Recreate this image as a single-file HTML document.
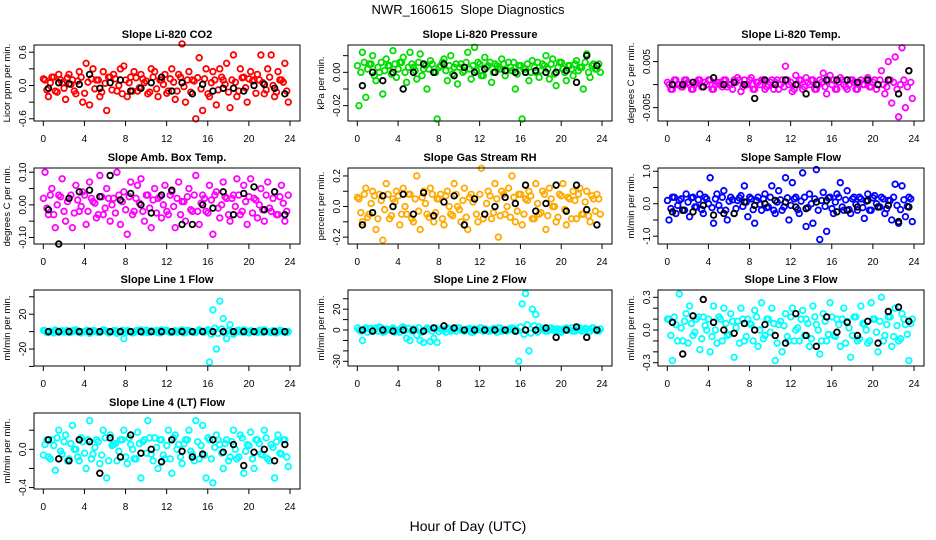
<!DOCTYPE html>
<html><head><meta charset="utf-8"><style>
html,body{margin:0;padding:0;background:#fff}
svg{display:block;font-family:"Liberation Sans",sans-serif}
.t{font-weight:bold;font-size:11px}
.tk{font-size:10px}
.al{font-size:9.5px}
</style></head><body>
<svg id="c" width="936" height="540" viewBox="0 0 936 540">
<text x="468" y="14" text-anchor="middle" font-size="13">NWR_160615&#160; Slope Diagnostics</text>
<text x="468" y="531" text-anchor="middle" font-size="14">Hour of Day (UTC)</text>
</svg>
<script>
const hourTicks=[0,4,8,12,16,20,24];
const titles=["Slope Li-820 CO2","Slope Li-820 Pressure","Slope Li-820 Temp.","Slope Amb. Box Temp.","Slope Gas Stream RH","Slope Sample Flow","Slope Line 1 Flow","Slope Line 2 Flow","Slope Line 3 Flow","Slope Line 4 (LT) Flow"];
const yLabels=["Licor ppm per min.","kPa per min.","degrees C per min.","degrees C per min.","percent per min.","ml/min per min.","ml/min per min.","ml/min per min.","ml/min per min.","ml/min per min."];
const yRanges=[[-0.64,0.73],[-0.0292,0.0164],[-0.0079,0.0086],[-0.12,0.113],[-0.245,0.252],[-1.24,1.1],[-39.5,47.8],[-34.5,38.4],[-0.33,0.367],[-0.415,0.38]];
const yTicks=[[-0.6,-0.3,0,0.3,0.6],[-0.02,-0.01,0,0.01],[-0.005,0,0.005],[-0.1,-0.05,0,0.05,0.1],[-0.2,-0.1,0,0.1,0.2],[-1,-0.5,0,0.5,1],[-40,-20,0,20,40],[-30,-20,-10,0,10,20,30],[-0.3,-0.2,-0.1,0,0.1,0.2,0.3],[-0.4,-0.2,0,0.2]];
const yTickLabels=[["-0.6","","0.0","","0.6"],["-0.02","","0.00",""],["-0.005","","0.005"],["-0.10","","0.00","","0.10"],["-0.2","","0.0","","0.2"],["-1.0","","0.0","","1.0"],["","-20","","20",""],["-30","","","0","","20",""],["-0.3","","","0.0","","","0.3"],["-0.4","","0.0",""]];
const colors=["#ff0000","#00dd00","#ff00ff","#ff00ff","#ffaa00","#0000ff","#00ffff","#00ffff","#00ffff","#00ffff"];
const series=[
[0.1,-0.2,0.15,-0.1,0.2,0.05,-0.25,0.2,0.1,-0.15,0.25,-0.3,0.4,-0.35,0.3,0.1,-0.2,0.25,-0.45,0.15,0.2,-0.1,0.3,0.35,-0.2,0.15,0.25,-0.1,0.2,0.05,-0.15,0.3,0.25,-0.2,0.1,0.2,-0.1,0.3,-0.25,0.2,0.75,-0.3,0.25,0.1,-0.6,0.5,-0.45,0.3,-0.2,0.25,-0.35,0.3,0.1,0.4,-0.4,0.55,-0.2,0.3,0.15,-0.3,0.25,0.1,0.2,0.55,-0.15,0.3,0.55,-0.2,0.25,0.1,0.4,-0.3],
[-0.02,0.012,-0.015,0.005,0.01,-0.005,0.0,-0.013,0.008,0.004,0.013,-0.003,0.006,0.009,-0.006,0.012,0.003,-0.004,0.011,0.002,-0.01,0.007,0.0,-0.028,0.004,0.008,-0.005,0.01,0.003,-0.007,0.005,0.001,0.012,-0.004,0.015,0.006,-0.002,0.009,0.004,-0.006,0.005,0.003,0.008,-0.002,0.006,0.001,-0.01,0.004,-0.028,0.002,-0.005,0.007,0.0,-0.003,0.005,0.01,-0.004,0.008,-0.008,0.006,0.002,-0.005,0.004,-0.002,0.007,0.003,-0.01,0.011,-0.003,0.005,0.002,0.0],
[0,-0.001,0.001,0,-0.0005,0.001,0,-0.001,0.0005,0.001,-0.0005,0,0.001,-0.001,0.0005,0,0.001,-0.0005,0,0.001,0.0015,-0.0015,0.001,0,0.0015,-0.001,0.0005,0.001,-0.001,0,0.001,0.0005,-0.001,0.001,0.004,0,-0.0015,0.002,0.001,-0.001,0.0015,0,0.001,-0.001,0.001,0.0025,-0.002,0.002,0.001,-0.001,0.0015,0,-0.001,0.001,0.0005,-0.001,0.001,0,0.0015,-0.0005,0.001,0,0.003,-0.002,0.005,-0.004,0.006,-0.007,0.008,-0.005,0.003,-0.003],
[0.1,-0.03,0.05,-0.07,0.03,0.08,-0.05,0.02,-0.07,0.06,-0.02,0.04,-0.06,0.07,0.01,-0.04,0.09,-0.03,0.05,-0.05,0.02,0.1,-0.06,0.04,-0.09,0.07,-0.02,0.06,0.08,-0.05,0.03,-0.07,0.05,0.02,-0.04,0.06,-0.03,0.04,-0.07,0.07,0.01,-0.05,0.05,-0.02,0.09,-0.06,0.03,-0.02,0.06,-0.09,0.04,-0.04,0.07,0.02,-0.05,0.03,0.08,-0.03,0.06,-0.06,0.08,0.02,-0.04,0.05,-0.05,0.07,-0.02,0.04,-0.03,0.06,-0.05,0.03],
[0.05,-0.1,0.12,-0.05,0.1,-0.15,0.08,-0.22,0.15,-0.08,0.05,0.1,-0.12,0.12,-0.05,0.08,-0.1,0.2,-0.15,0.1,-0.05,0.12,-0.1,0.05,0.08,-0.12,0.1,-0.05,0.15,0.0,-0.1,0.12,-0.15,0.08,0.05,-0.1,0.25,-0.05,0.1,-0.08,0.15,-0.2,0.1,-0.05,0.12,0.2,-0.1,0.08,-0.12,0.05,0.1,-0.08,0.15,-0.05,0.1,-0.15,0.12,0.0,-0.1,0.08,0.15,-0.12,0.05,0.1,-0.08,0.12,-0.05,0.1,-0.1,0.05,0.08,-0.05],
[-0.5,0.2,-0.3,0.1,-0.2,0.3,-0.4,0.2,-0.1,0.3,-0.3,0.15,0.8,-0.6,0.3,-0.2,0.4,-0.5,0.2,-0.3,0.1,0.25,0.55,-0.4,0.15,-0.6,0.2,-0.2,0.3,-0.1,0.55,-0.3,0.4,-0.2,0.8,-0.5,0.65,0.2,-0.3,0.95,-0.7,0.3,-0.6,1.05,-1.1,0.35,-0.85,0.2,-0.3,0.3,0.65,-0.2,0.4,-0.3,0.2,-0.2,0.15,-0.45,0.3,-0.2,0.25,-0.1,0.2,-0.3,0.1,-0.5,0.6,-0.6,0.55,-0.4,0.2,-0.55],
[1,-1,0,2,-1,1,0,-1,1,2,-1,0,1,-2,1,0,-1,2,0,-1,1,-2,0,-8,1,0,-1,1,2,0,-1,1,0,-1,2,1,0,-1,1,0,2,-1,1,0,-1,2,0,1,-35,25,-20,35,15,-8,8,-3,1,0,2,-1,1,0,-1,1,2,0,-1,1,0,1,-1,0],
[0,-10,2,1,-1,2,3,-2,1,0,2,-1,-2,3,-8,-10,1,-5,-10,-12,2,-11,-8,-12,1,0,2,-1,1,2,0,-1,1,-2,1,0,2,1,-1,0,1,2,-1,0,1,2,-1,-30,25,35,-20,20,15,3,1,-1,2,0,1,-1,1,2,0,-1,1,2,0,1,-1,2,0,1],
[0.1,-0.28,0.05,0.33,-0.1,0.15,0.22,-0.05,0.1,-0.18,0.12,0.0,-0.2,0.22,-0.12,0.1,0.2,-0.05,0.15,-0.25,0.08,0.2,-0.1,0.1,0.05,0.18,-0.15,0.25,-0.05,0.1,0.2,-0.28,0.05,-0.2,0.15,-0.1,0.2,0.0,-0.1,0.18,0.1,-0.15,0.22,0.05,-0.22,0.15,-0.1,0.25,-0.05,0.1,-0.15,0.2,0.08,-0.25,0.12,-0.1,0.22,0.05,-0.12,0.25,0.1,-0.2,0.3,-0.05,0.12,-0.15,0.2,-0.1,0.15,0.05,-0.28,0.1],
[0.05,-0.08,0.1,-0.22,0.2,-0.05,0.15,-0.1,0.25,0.0,-0.12,0.08,-0.2,0.3,-0.05,0.1,-0.15,0.2,-0.3,0.15,0.05,-0.12,0.1,0.2,-0.15,0.05,-0.1,0.18,-0.3,0.1,0.3,-0.05,0.12,-0.2,0.1,-0.1,0.2,-0.25,0.15,0.05,-0.15,0.1,0.2,-0.05,0.3,-0.1,0.25,-0.3,0.1,-0.35,0.15,0.05,-0.2,0.1,-0.08,0.2,-0.1,0.15,-0.25,0.05,0.18,-0.2,0.1,-0.05,0.2,-0.1,0.05,-0.3,0.15,-0.05,0.1,-0.18]
];
const bandSeries=[
[0.12,-0.08,0.05,0.15,-0.12,0.1,-0.05,0.14,0.02,-0.1,0.08,0.15,-0.14,0.06,0.12,-0.06,0.1,-0.12,0.04,0.15,-0.08,0.12,0.0,-0.15,0.1,0.05,-0.1,0.14,-0.04,0.12,0.08,-0.12,0.15,-0.06,0.1,0.02,-0.14,0.12,0.06,-0.1,0.15,-0.02,0.1,-0.12,0.08,0.14,-0.06,0.12,-0.15,0.05,0.1,-0.08,0.15,0.02,-0.12,0.1,0.06,-0.1,0.14,-0.04,0.12,0.08,-0.14,0.1,0.05,-0.08,0.15,0.0,-0.12,0.1,0.06,-0.1],
[0.004,0.0,0.006,0.002,0.005,-0.002,0.003,0.006,0.001,0.004,-0.001,0.005,0.002,0.006,0.0,0.003,0.005,0.001,0.006,-0.002,0.004,0.002,0.005,0.0,0.003,0.006,0.001,0.004,-0.001,0.005,0.003,0.0,0.006,0.002,0.004,0.001,0.005,-0.002,0.003,0.006,0.0,0.004,0.002,0.005,0.001,0.003,0.006,-0.001,0.004,0.002,0.005,0.0,0.003,0.006,0.001,0.004,0.002,0.005,-0.001,0.003,0.006,0.0,0.004,0.002,0.005,0.001,0.003,0.006,0.0,0.004,0.002,0.005],
[0.0005,-0.001,0.001,0,-0.0005,0.001,0.0005,-0.001,0,0.001,-0.0005,0.0005,0.001,-0.001,0,0.0005,-0.0005,0.001,0,-0.001,0.0005,0.001,-0.0005,0,0.001,-0.001,0.0005,0,0.001,-0.0005,0.0005,-0.001,0.001,0,-0.0005,0.001,0.0005,-0.001,0,0.001,-0.0005,0.0005,0.001,-0.001,0,0.0005,-0.0005,0.001,0,-0.001,0.0005,0.001,-0.0005,0,0.001,-0.001,0.0005,0,0.001,-0.0005,0.0005,-0.001,0.001,0,-0.0005,0.001,0.0005,-0.001,0,0.001,-0.0005,0.0005],
[0.02,-0.01,0.03,-0.03,0.0,0.025,-0.02,0.01,0.03,-0.025,0.015,-0.005,0.03,-0.02,0.02,0.005,-0.03,0.025,-0.01,0.02,0.0,-0.025,0.03,0.01,-0.015,0.025,-0.03,0.02,0.005,-0.02,0.03,-0.01,0.015,-0.025,0.025,0.0,-0.02,0.03,-0.005,0.02,-0.03,0.01,0.025,-0.015,0.03,-0.02,0.005,0.02,-0.025,0.015,0.03,-0.01,0.0,0.025,-0.03,0.02,-0.005,0.03,-0.02,0.01,0.025,-0.025,0.015,0.0,-0.015,0.03,-0.01,0.02,-0.03,0.025,0.005,-0.02],
[0.06,-0.04,0.08,-0.07,0.02,0.07,-0.08,0.04,-0.02,0.08,-0.06,0.03,0.07,-0.05,0.0,0.08,-0.08,0.05,-0.03,0.06,0.02,-0.07,0.08,-0.04,0.05,-0.08,0.07,0.0,-0.06,0.08,-0.02,0.04,-0.07,0.06,0.03,-0.05,0.08,-0.08,0.02,0.07,-0.04,0.05,-0.06,0.08,0.0,-0.07,0.06,-0.03,0.08,-0.05,0.04,0.07,-0.08,0.02,-0.04,0.08,-0.06,0.05,0.0,-0.07,0.07,-0.02,0.06,-0.08,0.04,0.08,-0.05,0.03,-0.06,0.07,-0.03,0.05],
[0.1,-0.15,0.2,-0.05,0.15,-0.2,0.05,0.18,-0.1,0.12,-0.18,0.2,0.0,-0.12,0.15,-0.05,0.2,-0.2,0.08,0.12,-0.15,0.18,-0.08,0.05,0.2,-0.18,0.1,-0.02,0.15,-0.12,0.2,-0.2,0.05,0.12,-0.1,0.18,-0.05,0.15,-0.18,0.08,0.2,-0.12,0.0,0.15,-0.2,0.1,-0.08,0.18,-0.15,0.05,0.2,-0.1,0.12,-0.18,0.15,-0.02,0.2,-0.12,0.08,-0.2,0.18,0.0,-0.1,0.15,-0.15,0.1,0.2,-0.05,-0.18,0.12,-0.08,0.15],
[1.5,-1,0.5,-1.5,1,0,-0.5,1.5,-1,0.5,1,-1.5,0,1.5,-0.5,1,-1,0.5,1.5,-1.5,0,1,-0.5,1.5,-1,0.5,-1.5,1,0,-1,1.5,-0.5,0.5,1,-1.5,0,1.5,-1,0.5,-0.5,1,-1.5,1.5,0,-1,0.5,1,-0.5,2,-3,4,-2,3,-1.5,1,0,-1,1.5,-0.5,1,-1.5,0.5,0,1.5,-1,0.5,-0.5,1,-1.5,1.5,0,-1],
[2,-1,1,-2,1.5,0,-1,2,-1.5,0.5,1,-2,0,2,-0.5,1.5,-1,0.5,2,-2,0,1,-1,2,-1.5,0.5,-2,1,0,-1,2,-0.5,0.5,1.5,-2,0,2,-1,0.5,-1,1.5,-2,2,0,-1,0.5,1.5,-1,3,-4,5,-3,4,-2,1,0,-1,2,-0.5,1,-2,0.5,0,2,-1,0.5,-1,1.5,-2,2,0,-1],
[0.1,-0.05,0.12,-0.1,0.02,0.08,-0.12,0.06,-0.02,0.12,-0.08,0.04,0.1,-0.06,0.0,0.12,-0.1,0.06,-0.04,0.08,0.02,-0.12,0.1,-0.06,0.06,-0.1,0.12,0.0,-0.08,0.1,-0.02,0.06,-0.12,0.08,0.04,-0.06,0.12,-0.1,0.02,0.1,-0.05,0.06,-0.08,0.12,0.0,-0.1,0.08,-0.04,0.12,-0.06,0.05,0.1,-0.12,0.02,-0.05,0.12,-0.08,0.06,0.0,-0.1,0.1,-0.02,0.08,-0.1,0.05,0.12,-0.06,0.04,-0.08,0.1,-0.04,0.06],
[-0.06,0.1,-0.1,0.04,0.12,-0.02,0.08,-0.12,0.06,0.0,-0.08,0.12,-0.04,0.1,-0.1,0.02,0.08,-0.06,0.12,-0.12,0.04,0.06,-0.02,0.1,-0.08,0.12,0.0,-0.1,0.06,0.08,-0.04,0.12,-0.12,0.02,0.1,-0.06,0.04,-0.1,0.12,0.0,-0.08,0.06,0.1,-0.02,-0.12,0.08,0.04,-0.06,0.12,-0.1,0.02,0.1,-0.04,0.06,-0.12,0.08,0.0,-0.08,0.12,-0.02,0.04,-0.1,0.1,0.06,-0.06,0.12,-0.12,0.02,0.08,-0.04,0.1,-0.08]
];
const means=[
[-0.05,0.05,0.03,0.02,0.2,-0.05,0.05,0.1,-0.1,-0.05,0.05,0.15,-0.1,0.05,-0.15,0.02,-0.1,-0.05,-0.05,-0.1,0,0.02,-0.05,-0.15],
[-0.008,0,-0.005,0,-0.01,0,0.005,0,0.005,-0.002,0.003,0,0.002,0,0.001,0,0,0.001,0,0,0.001,-0.006,0.01,0.004],
[0,0,0.0005,-0.0005,0.0015,0,0.0005,0,-0.003,0.001,0,0.001,0,-0.002,0,0.001,0.001,0.001,0.0005,0.001,0,0.001,-0.002,0.003],
[-0.015,-0.12,0.02,0.04,0.045,0.025,0.09,0.015,0.035,0,-0.025,0.03,0.045,-0.06,-0.06,0,-0.01,0.04,-0.03,0.035,0.055,-0.015,0.04,-0.03],
[-0.12,-0.04,0.07,0,0.08,-0.05,0.09,-0.06,0.03,0.07,-0.12,0.05,-0.05,0,0.06,0.02,0.14,-0.03,0.02,0.14,-0.03,0.14,-0.02,-0.12],
[-0.25,-0.2,-0.25,-0.05,-0.35,-0.3,-0.3,0.05,-0.05,0,0.1,0.05,-0.1,-0.15,0.05,0.1,-0.25,-0.2,-0.1,0.1,-0.1,-0.05,-0.55,-0.1],
[0,0,0,0,0,0,0,0,0,0,0,0,0,0,0,0,0,0,0,0,0,0,0,0],
[0,-1,0,-1,0,0,-1,2,4,2,0,0,0,0,0,-1,0,0,2,-7,0,3,-7,0],
[0.07,-0.22,0.13,0.28,0.07,0,-0.03,0.06,0,0.05,-0.05,-0.12,0.15,-0.05,-0.15,0.12,-0.02,0.07,-0.05,0.08,-0.12,0.17,0.21,0.08],
[0.1,-0.1,-0.12,0.1,0.08,-0.25,0.12,-0.08,0.15,-0.04,0,-0.13,0.1,-0.02,-0.08,-0.05,0.1,-0.03,0.05,-0.17,-0.03,0,-0.12,0.05]
];
const NS="http://www.w3.org/2000/svg";
const svg=document.getElementById('c');
const colX=[[34,300],[348,612],[658,924]];
const rowY=[[45,121],[168,244],[290,366],[413,489]];
function mk(tag,attrs,parent){const e=document.createElementNS(NS,tag);for(const k in attrs)e.setAttribute(k,attrs[k]);parent.appendChild(e);return e;}
for(let p=0;p<10;p++){
  const c=p%3,r=Math.floor(p/3);
  const [L,R]=colX[c],[T,B]=rowY[r];
  const g=mk('g',{},svg);
  
  
  const x0=L+9.3,xs=(R-L-19.3)/24;
  const X=h=>x0+h*xs;
  const [ymin,ymax]=yRanges[p];
  const Y=v=>B-(v-ymin)/(ymax-ymin)*(B-T);
  const t=mk('text',{x:(L+R)/2,y:T-7,'text-anchor':'middle',class:'t'},g);t.textContent=titles[p];
  
  
  const yl=mk('text',{x:0,y:0,'text-anchor':'middle',class:'al',transform:`translate(${L-24},${(T+B)/2}) rotate(-90)`},g);yl.textContent=yLabels[p];
  
  
  mk('line',{x1:X(0),x2:X(24),y1:B,y2:B,stroke:'#000'},g);
  hourTicks.forEach(h=>{
    mk('line',{x1:X(h),x2:X(h),y1:B,y2:B+5,stroke:'#000'},g);
    const tx=mk('text',{x:X(h),y:B+21,'text-anchor':'middle',class:'tk'},g);tx.textContent=h;
    
    
  });
  const yt=yTicks[p];
  mk('line',{x1:L,x2:L,y1:Y(yt[0]),y2:Y(yt[yt.length-1]),stroke:'#000'},g);
  yt.forEach((v,i)=>{
    mk('line',{x1:L-5,x2:L,y1:Y(v),y2:Y(v),stroke:'#000'},g);
    if(yTickLabels[p][i]){
      const ty=mk('text',{x:0,y:0,'text-anchor':'middle',class:'tk',transform:`translate(${L-8},${Y(v)}) rotate(-90)`},g);ty.textContent=yTickLabels[p][i];
      
      
    }
  });
  const bs=bandSeries[p];
  bs.forEach((v,i)=>{
    const h=(i+0.05)*24/bs.length;
    const pt=mk('circle',{cx:X(h),cy:Y(v),r:2.8,fill:'none',stroke:colors[p],'stroke-width':1.8},g);
    
    
  });
  const cs=series[p];
  cs.forEach((v,i)=>{
    const h=(i+0.5)*24/cs.length;
    const pt=mk('circle',{cx:X(h),cy:Y(v),r:2.8,fill:'none',stroke:colors[p],'stroke-width':1.8},g);
    
    
  });
  const ms=means[p];
  ms.forEach((v,i)=>{
    const h=(i+0.5)*24/ms.length;
    const pt=mk('circle',{cx:X(h),cy:Y(v),r:2.8,fill:'none',stroke:'#000','stroke-width':1.8},g);
    
    
  });
  const box=mk('rect',{x:L,y:T,width:R-L,height:B-T,fill:'none',stroke:'#000'},g);
  
  
}
</script>
</body></html>
